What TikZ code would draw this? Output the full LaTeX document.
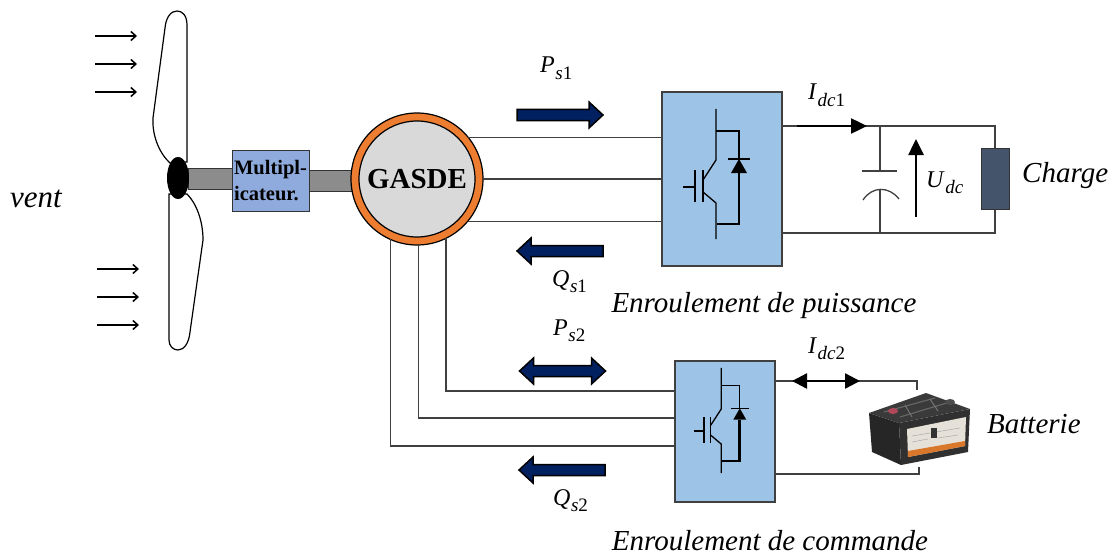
\documentclass[tikz,border=0pt]{standalone}
\usepackage{fontspec}
\setmainfont{Liberation Serif}
\usetikzlibrary{arrows.meta,calc,shapes.geometric}
\definecolor{navy}{HTML}{002060}
\definecolor{convblue}{HTML}{9DC3E6}
\definecolor{multblue}{HTML}{8FAADC}
\definecolor{ringorange}{HTML}{ED7D31}
\definecolor{statorgray}{HTML}{D9D9D9}
\definecolor{slate}{HTML}{44546A}
\definecolor{wiregray}{HTML}{404040}
\definecolor{battop}{HTML}{3A3A3A}
\definecolor{batside}{HTML}{262626}
\definecolor{batfront}{HTML}{303030}
\definecolor{batlabel}{HTML}{E6E1D8}
\definecolor{batstripe}{HTML}{D9772B}
\definecolor{batred}{HTML}{B0485A}
% quantity with a lowered index, e.g. P_{s1}
\newcommand\qtysub[2]{\textit{#1}\kern0.5pt\raisebox{-6.5pt}{\fontsize{19}{19}\selectfont #2}}

\begin{document}
\begin{tikzpicture}[x=1pt,y=-1pt,
  wire/.style={draw=wiregray,line width=1.3pt},
  sw/.style={line width=1.3pt},
  conv/.style={draw=wiregray,line width=1.2pt,fill=convblue,inner sep=0pt,outer sep=0pt},
  blockarrow/.style={draw=black,line width=1.5pt,fill=navy,line join=miter},
  lbl/.style={font=\fontsize{29}{34}\selectfont\itshape,inner sep=0pt},
  mlbl/.style={font=\fontsize{24}{26}\selectfont,inner sep=0pt},
  wind/.style={line width=1.5pt,-{Straight Barb[length=5pt,width=9pt]}},
  shaft/.style={fill=black!45,draw=black!80,line width=1pt},
  blade/.style={fill=white,draw=black,line width=1.2pt},
  curarrow/.style={line width=2.4pt,-{Triangle[length=16pt,width=15pt]}},
  igbt/.pic={
    % IGBT with its anti-parallel diode
    \draw[sw] (-6,-65) -- (-6,-14) -- (-19,6);
    \draw[sw] (-19,-4) -- (-19,28);
    \draw[sw] (-27,-4) -- (-27,28);
    \draw[sw] (-39,13) -- (-27,13);
    \draw[sw] (-19,18) -- (-6,29) -- (-6,65);
    \draw[sw] (-6,-43) -- (17,-43) -- (17,-15);
    \draw[sw] (6,-15) -- (28,-15);
    \fill (17,-15) -- (9,-1) -- (25,-1) -- cycle;
    \draw[line width=2.6pt] (17,-1) -- (17,50) -- (-5,50);
  },
  blockR/.pic={
    \draw[blockarrow] (-43,-5.5) -- (29,-5.5) -- (29,-13) -- (43,0) -- (29,13) -- (29,5.5) -- (-43,5.5) -- cycle;
  },
  blockL/.pic={
    \draw[blockarrow] (43,-5.5) -- (-29,-5.5) -- (-29,-13) -- (-43,0) -- (-29,13) -- (-29,5.5) -- (43,5.5) -- cycle;
  },
  blockLR/.pic={
    \draw[blockarrow] (-43,0) -- (-29,-13) -- (-29,-5.5) -- (29,-5.5) -- (29,-13) -- (43,0) -- (29,13) -- (29,5.5) -- (-29,5.5) -- (-29,13) -- cycle;
  }
]
\useasboundingbox (0,0) rectangle (1115,559);

% wind
\draw[wind] (95,36) -- (137,36);
\draw[wind] (95,64) -- (137,64);
\draw[wind] (95,92) -- (137,92);
\draw[wind] (97,269) -- (139,269);
\draw[wind] (97,297) -- (139,297);
\draw[wind] (97,325) -- (139,325);
\node[lbl,anchor=base west,font=\fontsize{31}{34}\selectfont\itshape] (vent) at (10,207) {vent};

% rotor blades
\draw[blade] (187,162) -- (187,25) .. controls (187,15) and (182,11) .. (177,11)
  .. controls (171,11) and (166,17) .. (165,28) -- (153,118)
  .. controls (152,135) and (159,153) .. (170,163) -- cycle;
\draw[blade] (169,194) -- (169,340) .. controls (169,346) and (173,350) .. (178,350)
  .. controls (184,350) and (189,343) .. (190,332) -- (203,240)
  .. controls (203,220) and (196,203) .. (187,194) -- cycle;

% shafts
\draw[shaft] (188,168) rectangle (232,189);
\draw[shaft] (309,170) rectangle (352,191);
\node[ellipse,fill=black,minimum width=22pt,minimum height=42pt,inner sep=0pt] (hub) at (178,178) {};

% gearbox
\node[draw=black!80,fill=multblue,line width=1pt,minimum width=77pt,minimum height=61pt,
  inner sep=0pt,align=left,font=\fontsize{20.5}{26}\selectfont\bfseries] (mult) at (270.5,180.5) {Multipl-\\icateur.};

% generator
\node[circle,draw=black,line width=1.2pt,fill=ringorange,minimum size=132pt,inner sep=0pt,outer sep=0pt] (gasde) at (417,179) {};
\node[circle,draw=black,line width=1.2pt,fill=statorgray,minimum size=116pt,inner sep=0pt,
  font=\fontsize{29}{34}\selectfont\bfseries] (gasdein) at (417,179) {GASDE};

% converters
\node[conv,minimum width=120pt,minimum height=174pt] (conv1) at (722,179) {};
\node[conv,minimum width=100pt,minimum height=141pt] (conv2) at (725,431.5) {};
\pic at (722,174) {igbt};
\pic[scale=0.81] at (726,420.5) {igbt};

% power winding to converter 1
\draw[wire] (gasde.39.5) -- (gasde.39.5 -| conv1.west);
\draw[wire] (gasde.0.9) -- (gasde.0.9 -| conv1.west);
\draw[wire] (gasde.-40.7) -- (gasde.-40.7 -| conv1.west);

% control winding to converter 2
\draw[wire] (gasde.296) |- ([yshift=40.5pt]conv2.west);
\draw[wire] (gasde.271.7) |- ([yshift=13.5pt]conv2.west);
\draw[wire] (gasde.246.8) |- ([yshift=-14.5pt]conv2.west);

% DC bus of converter 1
\node[draw=black!80,line width=1pt,fill=slate,minimum width=28pt,minimum height=61pt,inner sep=0pt] (charge) at (995,178.5) {};
\draw[wire] ([yshift=-34pt]conv1.north east) -| (charge.north);
\draw[wire] ([yshift=33pt]conv1.south east) -| (charge.south);
\coordinate (ctop) at (880,126);
\coordinate (cbot) at (880,233);
\draw[wire] (ctop) -- (880,171);
\draw[wire] (862,171) -- (897,171);
\draw[wire] (863,200) .. controls (872,186) and (889,186) .. (899,199);
\draw[wire] (880,190) -- (cbot);
\coordinate (i1a) at (797,126);
\coordinate (i1b) at (867,126);
\draw[curarrow] (i1a) -- (i1b);
\coordinate (ua) at (916,217);
\coordinate (ub) at (916,139);
\draw[curarrow,line width=2.6pt] (ua) -- (ub);
\node[mlbl,anchor=base west] (idc1) at (808,100) {\qtysub{I}{\textit{dc}1}};
\node[mlbl,anchor=base west] (udc) at (926,187) {\qtysub{U}{\textit{dc}}};
\node[lbl,anchor=base west] (chargelbl) at (1022,182) {Charge};

% battery
\coordinate (bt) at (917,390);
\coordinate (bb) at (919,467);
\begin{scope}
  \fill[batside] (869,413) -- (899,423) -- (901,465) -- (872,452) -- cycle;
  \fill[batfront] (899,423) -- (970,409) -- (968,452) -- (901,465) -- cycle;
  \fill[battop] (869,413) -- (926,393) -- (970,409) -- (899,423) -- cycle;
  \fill[batlabel] (907,429) -- (966,417) -- (965,446) -- (908,457) -- cycle;
  \fill[batstripe] (908,451) -- (965,441) -- (965,446) -- (908,457) -- cycle;
  \draw[gray!60,line width=0.6pt] (912,436) -- (930,433) (912,442) -- (928,439) (936,432) -- (960,428) (938,438) -- (958,435);
  \fill[black!80] (931,428) rectangle (937,438);
  \draw[black!60,line width=1.2pt] (884,412) -- (935,398) (900,417) -- (950,402);
  \draw[black!55,line width=1pt] (905,405) -- (912,417) (930,399) -- (938,411);
  \fill[batred] (893,411) ellipse (5pt and 3pt);
  \fill[black!70] (950,402) ellipse (5pt and 3pt);
\end{scope}
\draw[wire] ([yshift=-20pt]conv2.north east) -| (bt);
\draw[wire] ([yshift=28pt]conv2.south east) -| (bb);
\coordinate (i2a) at (792,381);
\coordinate (i2b) at (860,381);
\draw[line width=2.4pt,{Triangle[length=15pt,width=15pt]}-{Triangle[length=15pt,width=15pt]}] (i2a) -- (i2b);
\node[mlbl,anchor=base west] (idc2) at (808,353) {\qtysub{I}{\textit{dc}2}};
\node[lbl,anchor=base west] (batlbl) at (987,433) {Batterie};

% power flow arrows
\pic at (560,115) {blockR};
\pic at (560,251) {blockL};
\pic at (562.5,371) {blockLR};
\pic at (562,470) {blockL};
\node[mlbl,anchor=base west] (ps1) at (540,73) {\qtysub{P}{\textit{s}1}};
\node[mlbl,anchor=base west] (qs1) at (552,286) {\qtysub{Q}{\textit{s}1}};
\node[mlbl,anchor=base west] (ps2) at (553,335) {\qtysub{P}{\textit{s}2}};
\node[mlbl,anchor=base west] (qs2) at (553,505) {\qtysub{Q}{\textit{s}2}};

% winding names
\node[lbl,anchor=base] (enrp) at (764,312) {Enroulement de puissance};
\node[lbl,anchor=base] (enrc) at (770,550) {Enroulement de commande};
\end{tikzpicture}
\end{document}
